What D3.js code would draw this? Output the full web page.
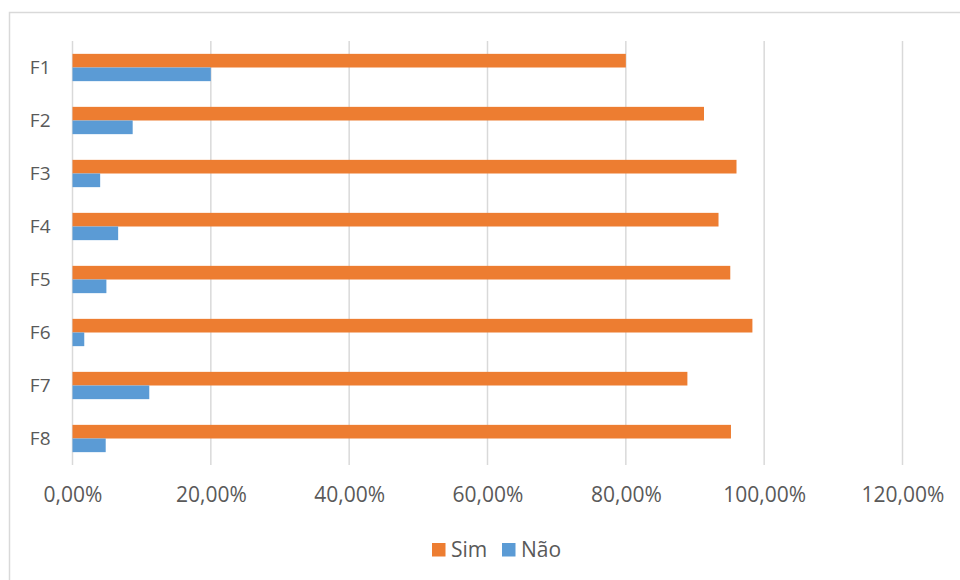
<!DOCTYPE html>
<html>
<head>
<meta charset="utf-8">
<script src="https://cdn.jsdelivr.net/npm/d3@7"></script>
<style>
  body { margin: 0; background: #fff; }
  svg text { font-family: "Open Sans", sans-serif; fill: #595959; }
</style>
</head>
<body>
<div id="chart"></div>
<script>
// data
var categories = ["F1", "F2", "F3", "F4", "F5", "F6", "F7", "F8"];
var seriesNames = ["Sim", "Não"];
var simValues = [0.800, 0.913, 0.960, 0.934, 0.951, 0.983, 0.889, 0.952];
var naoValues = [0.200, 0.087, 0.040, 0.066, 0.049, 0.017, 0.111, 0.048];
var tickValues = [0, 0.2, 0.4, 0.6, 0.8, 1.0, 1.2];
var colors = ["#ED7D31", "#5B9BD5"];

var width = 960, height = 580;

var svg = d3.select("#chart").append("svg")
    .attr("width", width)
    .attr("height", height);

// chart frame
svg.append("rect")
    .attr("x", 9.5).attr("y", 12.5)
    .attr("width", 960).attr("height", 600)
    .attr("fill", "none")
    .attr("stroke", "#d9d9d9")
    .attr("stroke-width", 1.5);

var x = d3.scaleLinear().domain([0, 1.2]).range([72.5, 902.5]);

var y = d3.scaleBand()
    .domain(categories)
    .range([41, 465])
    .paddingInner(0.485)
    .paddingOuter(0.2425);

var sub = d3.scaleBand().domain(seriesNames).range([0, y.bandwidth()]);

// gridlines
svg.append("g").selectAll("line").data(tickValues).enter().append("line")
    .attr("x1", function(d){ return x(d); })
    .attr("x2", function(d){ return x(d); })
    .attr("y1", 41).attr("y2", 465)
    .attr("stroke", "#d9d9d9")
    .attr("stroke-width", 1.5);

var rows = categories.map(function(c, i){
    return {cat: c, values: [simValues[i], naoValues[i]]};
});

var groups = svg.append("g").selectAll("g").data(rows).enter().append("g")
    .attr("transform", function(d){ return "translate(0," + y(d.cat) + ")"; });

groups.selectAll("rect").data(function(d){
        return d.values.map(function(v, j){ return {name: seriesNames[j], v: v, j: j}; });
    })
    .enter().append("rect")
    .attr("x", x(0))
    .attr("y", function(d){ return sub(d.name); })
    .attr("width", function(d){ return x(d.v) - x(0); })
    .attr("height", sub.bandwidth())
    .attr("fill", function(d){ return colors[d.j]; });

// category axis
var yAxis = d3.axisLeft(y).tickSize(0).tickPadding(22);
var ya = svg.append("g").attr("transform", "translate(" + x(0) + ",0)").call(yAxis);
ya.select(".domain").remove();
ya.selectAll("text").style("font-size", "19px").attr("fill", "#595959")
    .style("font-family", "'Open Sans', sans-serif");

// value axis
var fmt = function(d){ return d3.format(".2f")(d * 100).replace(".", ",") + "%"; };
var xAxis = d3.axisBottom(x).tickValues(tickValues).tickFormat(fmt).tickSize(0).tickPadding(22);
var xa = svg.append("g").attr("transform", "translate(0,465)").call(xAxis);
xa.select(".domain").remove();
xa.selectAll("text").style("font-size", "21px").attr("fill", "#595959")
    .style("font-family", "'Open Sans', sans-serif");

// legend
var legendX = [432, 502];
var legend = svg.append("g").selectAll("g").data(seriesNames).enter().append("g")
    .attr("transform", function(d, i){ return "translate(" + legendX[i] + ",543)"; });
legend.append("rect")
    .attr("width", 13.5).attr("height", 13.5)
    .attr("fill", function(d, i){ return colors[i]; });
legend.append("text")
    .attr("x", 19).attr("y", 14)
    .style("font-size", "21px")
    .text(function(d){ return d; });
</script>
</body>
</html>
